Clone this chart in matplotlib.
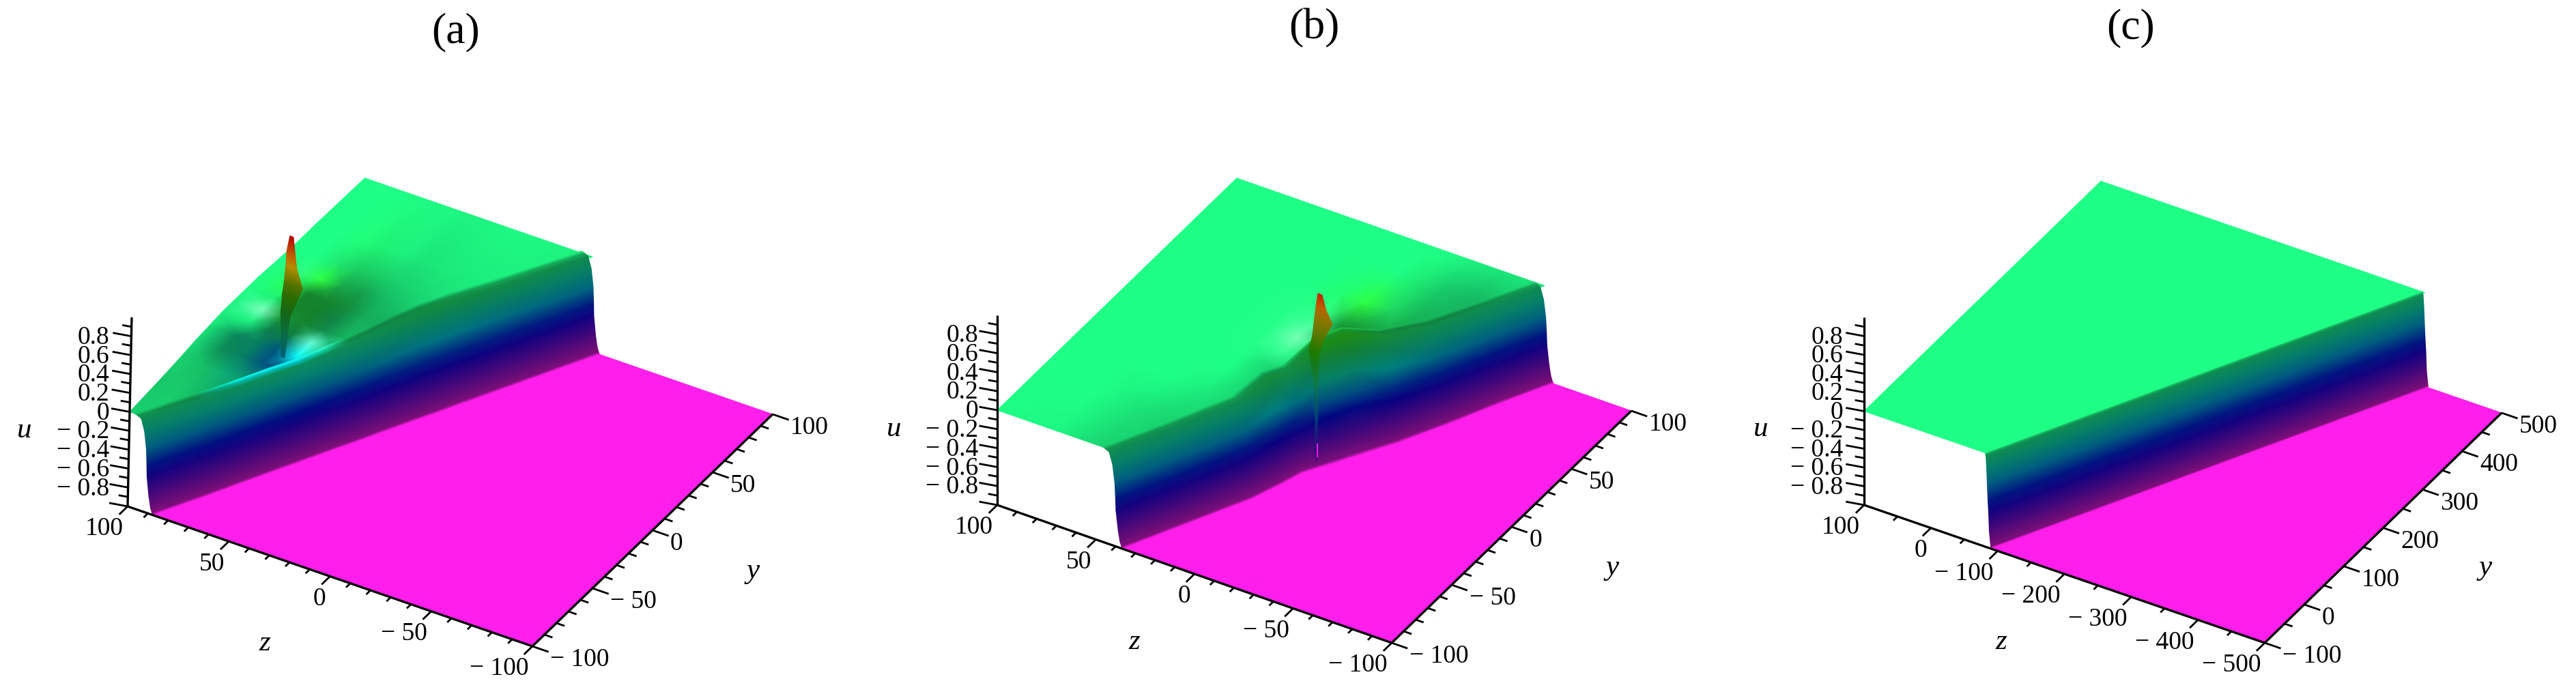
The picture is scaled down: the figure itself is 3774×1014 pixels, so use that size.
import numpy as np
import matplotlib
matplotlib.use("Agg")
import matplotlib.pyplot as plt
from matplotlib.colors import LinearSegmentedColormap

plt.rcParams['font.family'] = ['Liberation Serif', 'DejaVu Serif']

# u values ticks, same on the three panels
u_major = [-1.0, -0.8, -0.6, -0.4, -0.2, 0.0, 0.2, 0.4, 0.6, 0.8]
u_minor = [-0.9, -0.7, -0.5, -0.3, -0.1, 0.1, 0.3, 0.5, 0.7, 0.9]
u_labels = ["", "\u2212 0.8", "\u2212 0.6", "\u2212 0.4", "\u2212 0.2", "0", "0.2", "0.4", "0.6", "0.8"]

# the front profile across the cliff: height, distance from front line, shading
level_u = [0.0, -0.01, -0.03, -0.15, -0.33, -0.5, -0.62, -0.82, -0.93, -0.98, -1.0]
level_s = [6.5, 5.0, 3.2, 1.5, 0.4, 0.0, -0.2, -1.3, -2.2, -3.0, -3.6]
level_s_c = [4.5, 4.3, 3.5, 2.5, 1.5, 0.5, -0.5, -1.5, -3.0, -3.8, -4.0]
level_shade = [1.0, 0.7, 0.55, 0.5, 0.5, 0.5, 0.5, 0.5, 0.5, 0.52, 1.0]
level_lift = [1.0, 1.0, 0.95, 0.85, 0.7, 0.5, 0.35, 0.2, 0.1, 0.03, 0.0]

# panel (a)
a_y = [-100, -75, -55, -40, -28, -16, -6, 4, 14, 26, 40, 60, 100]
a_front = [91, 78, 68, 60.4, 54.3, 48.2, 43, 38, 32.9, 26.7, 19.6, 9.4, -11]
a_rim_u = [0, 0, -0.2, -0.25, -0.25, -0.12, 0, 0, 0, 0, 0, 0, 0]
a_rim_shade = [0.82, 0.72, 1.0, 1.05, 1.05, 1.15, 0.75, 0.72, 0.72, 0.75, 0.82, 0.92, 0.96]
a_crest = [0, -0.02, -0.03, -0.03, -0.04, -0.02, 0, 0.02, 0.05, 0.07, 0.07, 0.05, 0.02]
a_edge = [100, 101, 102, 103, 103.5, 104, 104, 104, 104, 103.5, 103, 103, 102.5]
a_z = [100, 90, 80, 70, 60, 50, 40, 30, 10, -20]
a_tint = [
    [0, 0, 0, 0, 0, 0, 0, 0, 0, 0, 0, 0, 0],
    [0, 0, 0, -0.05, -0.08, 0, -0.02, 0.03, 0.1, 0.03, 0, 0, 0],
    [0, 0, -0.08, -0.13, -0.12, -0.03, 0.1, 0.12, 0.1, 0.15, 0.03, 0.03, 0],
    [0, 0, -0.1, -0.35, -0.35, 0, 0.1, 0.1, 0.1, 0.05, 0.03, 0.03, 0],
    [0, 0, -0.1, -0.35, -0.25, -0.12, 0, 0, 0.06, 0.03, 0.02, 0, 0],
    [0, 0, 0, -0.2, -0.1, -0.05, 0, 0, 0, 0, 0, 0, 0],
    [0, 0, 0, 0, 0, 0, 0, 0, 0, 0, 0, 0, 0],
    [0, 0, 0, 0, 0, 0, 0, 0, 0, 0, 0, 0, 0],
    [0, 0, 0, 0, 0, 0, 0, 0, 0, 0, 0, 0, 0],
    [0, 0, 0, 0, 0, 0, 0, 0, 0, 0, 0, 0, 0],
]
a_shade = [
    [0.82, 0.78, 0.82, 0.87, 0.9, 0.95, 0.97, 1, 1, 1, 1, 1, 1],
    [0.82, 0.8, 0.75, 0.55, 0.52, 0.95, 1.35, 0.95, 1, 1.05, 1, 1, 1],
    [0.8, 0.72, 0.68, 0.5, 0.5, 0.5, 0.58, 0.52, 0.52, 1, 0.9, 1, 1],
    [0.8, 0.7, 0.6, 0.5, 0.5, 0.5, 0.52, 0.5, 0.52, 0.65, 0.8, 0.95, 0.98],
    [0.8, 0.7, 0.6, 0.5, 1.05, 1.3, 0.55, 0.52, 0.55, 0.62, 0.8, 0.95, 0.98],
    [0.8, 0.7, 0.6, 0.55, 0.8, 0.7, 0.7, 0.7, 0.68, 0.72, 0.82, 0.9, 0.96],
    [0.7, 0.7, 0.7, 0.7, 0.7, 0.7, 0.7, 0.7, 0.7, 0.78, 0.85, 0.92, 0.97],
    [0.7, 0.7, 0.7, 0.7, 0.7, 0.7, 0.7, 0.7, 0.7, 0.85, 0.88, 0.93, 0.98],
    [0.9, 0.9, 0.9, 0.9, 0.9, 0.9, 0.9, 0.9, 0.9, 0.9, 0.9, 0.95, 0.97],
    [0.92, 0.92, 0.92, 0.92, 0.92, 0.92, 0.92, 0.92, 0.92, 0.92, 0.92, 0.92, 0.95],
]
a_spike_u = [1.0, 0.83, 0.68, 0.49, 0.37, 0.16, -0.01, -0.3]
a_spike_left = [0.3, 1.7, 2.0, 2.7, 3.4, 4.0, 3.7, 3.4]
a_spike_right = [-1.4, -2.4, -3.4, -6.4, -4.4, -0.7, 0.3, 1.7]
a_spike_shade = [0.72, 0.75, 0.7, 0.45, 0.43, 0.4, 0.43, 0.45]

# panel (b)
b_y = [-100, -70, -40, -24, -12, 0, 12, 28, 50, 76, 100]
b_front = [40, 25.5, 11, 5.5, 2, -5.5, -12.5, -22, -33, -45, -57]
b_rim_u = [0, 0, 0, 0, 0, 0.12, 0.12, 0.05, 0.02, 0, 0]
b_rim_shade = [0.82, 0.85, 0.85, 0.8, 0.8, 0.75, 0.8, 0.72, 0.7, 0.75, 0.9]
b_crest = [0, 0, 0.01, 0.11, 0.06, 0.24, 0.27, 0.12, 0.03, 0, 0]
b_z = [100, 70, 46, 30, 16, 4, -8, -20, -36, -60]
b_tint = [
    [0, 0, 0, 0, 0, 0, 0, 0, 0, 0, 0],
    [0, 0, 0, 0, 0, 0, 0, 0, 0, 0, 0],
    [0, 0, 0, 0, 0, 0, 0, 0, 0, 0, 0],
    [0, 0, 0, 0, 0, 0, 0, 0, 0, 0, 0],
    [0, 0, 0, 0, 0, 0, 0, 0, 0.05, 0, 0],
    [0, 0, 0, 0, 0, 0, 0, 0.08, 0.15, 0, 0],
    [0, 0, 0, 0, 0, 0, 0, 0.08, 0.05, 0.02, 0],
    [0, 0, 0, 0, 0, 0, 0, 0.05, 0.03, 0, 0],
    [0, 0, 0, 0, 0, 0, 0, 0, 0, 0, 0],
    [0, 0, 0, 0, 0, 0, 0, 0, 0, 0, 0],
]
b_shade = [
    [1, 1, 1, 1, 1, 1, 1, 1, 1, 1, 1],
    [0.97, 1, 1, 1, 1, 1, 1, 1, 1, 1, 1],
    [0.82, 0.88, 1, 1, 1, 1, 1, 1, 1, 1, 1],
    [0.85, 0.82, 0.93, 1, 1, 1.02, 1.02, 1.02, 1, 1, 1],
    [0.85, 0.85, 0.85, 0.85, 0.85, 1.1, 1.32, 1.1, 1, 1, 1],
    [0.85, 0.85, 0.85, 0.85, 0.85, 0.9, 0.9, 0.55, 1, 1, 1],
    [0.85, 0.85, 0.85, 0.85, 0.85, 0.85, 0.8, 0.55, 0.85, 0.92, 1],
    [0.85, 0.85, 0.85, 0.85, 0.85, 0.85, 0.8, 0.7, 0.7, 0.8, 0.95],
    [0.85, 0.85, 0.85, 0.85, 0.85, 0.85, 0.8, 0.7, 0.7, 0.72, 0.9],
    [0.85, 0.85, 0.85, 0.85, 0.85, 0.85, 0.8, 0.8, 0.8, 0.8, 0.9],
]
b_spike_u = [0.93, 0.78, 0.66, 0.47, 0.3, -0.06, -0.42, -0.73, -0.85]
b_spike_left = [-0.3, 0.7, 1.4, 2.4, 4.2, 1.4, 1.2, 1.0, 0.8]
b_spike_right = [-2.4, -4.5, -7.6, -3.5, -1.0, -0.3, -0.2, 0.0, 0.2]
b_spike_shade = [0.78, 0.72, 0.55, 0.47, 0.48, 0.48, 0.48, 0.48, 0.5]
b_mark_u = [-0.66, -0.79]

# panel (c) has no lump
c_y = [-100, 500]
c_front = [-86, -386]
c_rim_u = [0, 0]
c_rim_shade = [1, 1]
c_crest = [0, 0]
c_z = [100, -500]
c_tint = [[0, 0], [0, 0]]
c_shade = [[1, 1], [1, 1]]

# colour against height, taken from the flat and lit parts of the picture
u_stops = [-1.0, -0.55, -0.25, 0.0, 0.3, 0.6, 1.0]
hue_stops = ['#ff1eeb', '#0000ff', '#00ffff', '#1eff87', '#3cff00', '#ffff00', '#ff0000']
surf_cmap = LinearSegmentedColormap.from_list(
    'surf', [((u + 1) / 2, c) for u, c in zip(u_stops, hue_stops)], N=512)


def lit(u, shade):
    u = np.asarray(u, float)
    shade = np.asarray(shade, float)
    rgb = surf_cmap((u + 1) / 2)[..., :3]
    out = rgb * np.minimum(shade, 1)[..., None]
    white = np.clip((shade - 1) * 1.25, 0, 1)[..., None]
    return out + (1 - out) * white


class Box:
    # the page position of the three axes, pixels
    def __init__(self, ax, origin, ez, ey, eu, yr, zr):
        self.ax, self.o, self.ez, self.ey, self.eu = ax, origin, ez, ey, eu
        self.yr, self.zr = yr, zr

    def page(self, y, z, u):
        y, z, u = np.asarray(y, float), np.asarray(z, float), np.asarray(u, float)
        a = (y - self.yr[0]) / (self.yr[1] - self.yr[0])
        b = (self.zr[1] - z) / (self.zr[1] - self.zr[0])
        c = (u + 1) / 2
        return (self.o[0] + a * self.ey[0] + b * self.ez[0] + c * self.eu[0],
                self.o[1] + a * self.ey[1] + b * self.ez[1] + c * self.eu[1])

    def mesh(self, y, z, u, rgb):
        px, py = self.page(y, z, u)
        self.ax.pcolormesh(px, py, rgb, shading='gouraud')


def draw_surface(box, ys, front, rim_u, rim_shade, crest, z_rows, tint, shade, offsets, edge=None):
    ys = np.array(ys, float)
    front = np.array(front, float)
    rim_u = np.array(rim_u, float)
    rim_shade = np.array(rim_shade, float)
    crest = np.array(crest, float)

    # plateau, stops just behind the front
    yy = np.tile(ys, (len(z_rows), 1))
    zz = np.maximum(np.array(z_rows, float)[:, None], front + 1)
    if edge is not None:
        zz[0] = edge
    box.mesh(yy, zz, np.zeros_like(yy), lit(tint, shade))

    # cliff and floor
    s = np.array(offsets, float)
    cy = np.tile(ys, (len(s) + 1, 1))
    cz = np.clip(front + s[:, None], box.zr[0], box.zr[1])
    cz = np.vstack([cz, np.full(len(ys), box.zr[0], float)])
    lift = np.outer(level_lift, crest)
    cu = np.array(level_u)[:, None] + lift
    cu = np.vstack([cu, np.full(len(ys), -1.0)])
    hue = cu.copy()
    hue[0] = rim_u
    hue[1] = rim_u
    sh = np.tile(np.array(level_shade)[:, None], (1, len(ys)))
    sh[0] = rim_shade
    sh[1] = rim_shade * 0.72
    sh = np.vstack([sh, np.ones(len(ys))])
    box.mesh(cy, cz, cu, lit(hue, sh))


def draw_spike(box, y0, z0, spike_u, left, right, spike_shade):
    u = np.array(spike_u, float)
    zz = z0 + np.column_stack([left, right])
    yy = np.full_like(zz, y0)
    uu = np.column_stack([u, u])
    ss = np.column_stack([spike_shade, spike_shade])
    box.mesh(yy, zz, uu, lit(uu, ss))


def draw_axes(box, z_ticks, z_minor, z_labels, y_ticks, y_minor, y_labels, u_x):
    ax = box.ax
    ymin, ymax = box.yr
    zmin, zmax = box.zr
    yspan = ymax - ymin
    zspan = zmax - zmin
    black = dict(color='black', lw=2.4, solid_capstyle='butt')
    thin = dict(color='black', lw=2.0, solid_capstyle='butt')

    for p, q in [((ymin, zmax, -1), (ymin, zmax, 1)),
                 ((ymin, zmax, -1), (ymin, zmin, -1)),
                 ((ymin, zmin, -1), (ymax, zmin, -1))]:
        a, b = box.page(*p), box.page(*q)
        ax.plot([a[0], b[0]], [a[1], b[1]], **black)

    # u ticks lean back along z
    for vals, k in [(u_major, 1.0), (u_minor, 0.5)]:
        for v in vals:
            a = box.page(ymin, zmax, v)
            b = box.page(ymin - 0.0094 * k * yspan, zmax + 0.04 * k * zspan, v)
            ax.plot([a[0], b[0]], [a[1], b[1]], **thin)
    for v, t in zip(u_major, u_labels):
        a = box.page(ymin, zmax, v)
        ax.text(u_x, a[1] + 2, t, ha='right', va='center', fontsize=27)

    for vals, k in [(z_ticks, 1.0), (z_minor, 0.5)]:
        for v in vals:
            a = box.page(ymin, v, -1)
            b = box.page(ymin - 0.035 * k * yspan, v, -1)
            ax.plot([a[0], b[0]], [a[1], b[1]], **thin)
    for v, t in zip(z_ticks, z_labels):
        a = box.page(ymin, v, -1)
        ax.text(a[0] - 6, a[1] + 33, t, ha='right', va='center', fontsize=27)

    for vals, k in [(y_ticks, 1.0), (y_minor, 0.5)]:
        for v in vals:
            a = box.page(v, zmin, -1)
            b = box.page(v, zmin - 0.04 * k * zspan, -1)
            ax.plot([a[0], b[0]], [a[1], b[1]], **thin)
    for v, t in zip(y_ticks, y_labels):
        a = box.page(v, zmin, -1)
        ax.text(a[0] + 26, a[1] + 20, t, ha='left', va='center', fontsize=27)

    ox, oy = box.o
    cx, cy = box.page(ymin, zmin, -1)
    ax.text(ox - 151, oy - 111, 'u', style='italic', ha='center', va='center', fontsize=31)
    ax.text(ox + 201, oy + 201, 'z', style='italic', ha='center', va='center', fontsize=31)
    ax.text(cx + 323, cy - 110, 'y', style='italic', ha='center', va='center', fontsize=31)


fig = plt.figure(figsize=(37.74, 10.14), dpi=100)
ax = fig.add_axes([0, 0, 1, 1])

ticks_100 = [100, 50, 0, -50, -100]
minor_100 = [v for v in range(-90, 100, 10) if v % 50 != 0]
labels_z_100 = ["100", "50", "0", "\u2212 50", "\u2212 100"]

# (a)
box_a = Box(ax, (187, 742), (593, 205), (352, -340), (6, -277), (-100, 100), (-100, 100))
draw_surface(box_a, a_y, a_front, a_rim_u, a_rim_shade, a_crest, a_z, a_tint, a_shade, level_s, a_edge)
draw_spike(box_a, -13.6, 72.8, a_spike_u, a_spike_left, a_spike_right, a_spike_shade)
draw_axes(box_a, ticks_100, minor_100, labels_z_100, ticks_100, minor_100, labels_z_100, 160)

# (b)
box_b = Box(ax, (1461, 740), (578, 202), (351, -340), (0, -278), (-100, 100), (-100, 100))
draw_surface(box_b, b_y, b_front, b_rim_u, b_rim_shade, b_crest, b_z, b_tint, b_shade, level_s)
draw_spike(box_b, -11, -8.2, b_spike_u, b_spike_left, b_spike_right, b_spike_shade)
mx, my = box_b.page(-11, -8.2, b_mark_u)
ax.plot(mx, my, color='#e020f0', lw=1.5)
draw_axes(box_b, ticks_100, minor_100, labels_z_100, ticks_100, minor_100, labels_z_100, 1433)

# (c)
c_z_ticks = [100, 0, -100, -200, -300, -400, -500]
c_z_minor = [50, -50, -150, -250, -350, -450]
c_z_labels = ["100", "0", "\u2212 100", "\u2212 200", "\u2212 300", "\u2212 400", "\u2212 500"]
c_y_ticks = [-100, 0, 100, 200, 300, 400, 500]
c_y_minor = [-50, 50, 150, 250, 350, 450]
c_y_labels = ["\u2212 100", "0", "100", "200", "300", "400", "500"]
box_c = Box(ax, (2731, 740), (587, 202), (347, -337), (0, -275), (-100, 500), (-500, 100))
draw_surface(box_c, c_y, c_front, c_rim_u, c_rim_shade, c_crest, c_z, c_tint, c_shade, level_s_c)
draw_axes(box_c, c_z_ticks, c_z_minor, c_z_labels, c_y_ticks, c_y_minor, c_y_labels, 2700)

ax.text(668, 47, '(a)', ha='center', va='center', fontsize=46)
ax.text(1925, 41, '(b)', ha='center', va='center', fontsize=46)
ax.text(3122, 41, '(c)', ha='center', va='center', fontsize=46)

ax.set_xlim(0, 3774)
ax.set_ylim(1014, 0)
ax.set_axis_off()
plt.savefig("out.png", dpi=100)
